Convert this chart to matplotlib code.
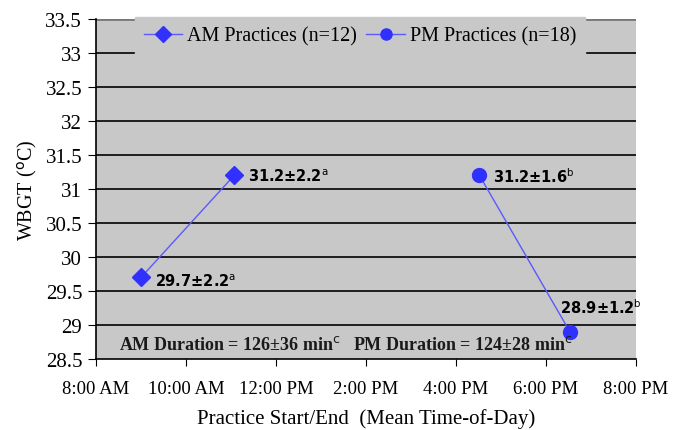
import matplotlib
matplotlib.use("Agg")
import matplotlib.pyplot as plt

# Data (time in hours of day)
am_times = [9.0, 11.07]
am_wbgt = [29.7, 31.2]
pm_times = [16.52, 18.53]
pm_wbgt = [31.2, 28.9]
am_labels = [r"29.7±2.2$^{\mathrm{a}}$", r"31.2±2.2$^{\mathrm{a}}$"]
pm_labels = [r"31.2±1.6$^{\mathrm{b}}$", r"28.9±1.2$^{\mathrm{b}}$"]
xticks = [8, 10, 12, 14, 16, 18, 20]
xticklabels = ["8:00 AM", "10:00 AM", "12:00 PM", "2:00 PM", "4:00 PM", "6:00 PM", "8:00 PM"]
yticks = [28.5, 29, 29.5, 30, 30.5, 31, 31.5, 32, 32.5, 33, 33.5]

plt.rcParams['mathtext.fontset'] = 'dejavusans'
fig = plt.figure(figsize=(6.84, 4.31), dpi=100)
ax = fig.add_axes([0.1404, 0.1647, 0.7895, 0.789])
ax.set_facecolor('#c8c8c8')

for y in yticks[1:-1]:
    ax.axhline(y, color='#111111', lw=1.3, zorder=1)
ax.axhline(33.5, color='#777777', lw=2, zorder=0.5)

ax.plot(am_times, am_wbgt, color='#5a5aff', lw=1, marker='D', markersize=9,
        markerfacecolor='#3030ff', markeredgecolor='#3030ff', label='AM Practices (n=12)', zorder=3)
ax.plot(pm_times, pm_wbgt, color='#5a5aff', lw=1, marker='o', markersize=10,
        markerfacecolor='#3030ff', markeredgecolor='#3030ff', label='PM Practices (n=18)', zorder=3)

sans = ['DejaVu Sans']
ann_kw = dict(fontsize=10.5, fontweight='bold', family=sans, zorder=4)
ax.text(am_times[0] + 0.3, am_wbgt[0] - 0.05, am_labels[0], va='center', ha='left', **ann_kw)
ax.text(am_times[1] + 0.3, am_wbgt[1] - 0.01, am_labels[1], va='center', ha='left', **ann_kw)
ax.text(pm_times[0] + 0.3, pm_wbgt[0] - 0.01, pm_labels[0], va='center', ha='left', **ann_kw)
ax.text(pm_times[1] - 0.22, pm_wbgt[1] + 0.37, pm_labels[1], va='center', ha='left', **ann_kw)

serif_kw = dict(family='Liberation Serif', fontsize=13, fontweight='bold', va='center',
                ha='left', color='#1a1a1a', zorder=4)
ax.text(8.5, 28.72, r"AM Duration = 126±36 min$^{\mathrm{c}}$", **serif_kw)
ax.text(13.7, 28.72, r"PM Duration = 124±28 min$^{\mathrm{c}}$", **serif_kw)

ax.set_xlim(8, 20)
ax.set_ylim(28.5, 33.5)
ax.set_xticks(xticks)
ax.set_xticklabels(xticklabels, family='Liberation Serif', fontsize=13.5)
ax.set_yticks(yticks)
ax.set_yticklabels([f"{v:g}" for v in yticks], family='Liberation Serif', fontsize=15)
ax.tick_params(axis='x', direction='out', length=5, pad=10)
ax.tick_params(axis='y', direction='out', length=6, pad=4)

for s in ['top', 'right']:
    ax.spines[s].set_visible(False)
ax.spines['left'].set_linewidth(1.2)
ax.spines['bottom'].set_linewidth(1.2)

plt.rcParams['mathtext.fontset'] = 'stix'
ax.set_ylabel(r"WBGT ($^{\mathrm{o}}$C)", family='Liberation Serif', fontsize=14.5, labelpad=4)
ax.set_xlabel("Practice Start/End  (Mean Time-of-Day)", family='Liberation Serif', fontsize=15, labelpad=8)

leg = ax.legend(loc='center', bbox_to_anchor=(0.489, 0.95), ncol=2, frameon=True,
                facecolor='#c8c8c8', edgecolor='#c8c8c8', framealpha=1, fancybox=False,
                prop={'family': 'Liberation Serif', 'size': 14.5}, handlelength=1.9,
                handletextpad=0.25, columnspacing=0.45, borderpad=0.45, borderaxespad=0)
for h in leg.legend_handles:
    h.set_markersize(8)

fig.savefig("out.png", dpi=100)
